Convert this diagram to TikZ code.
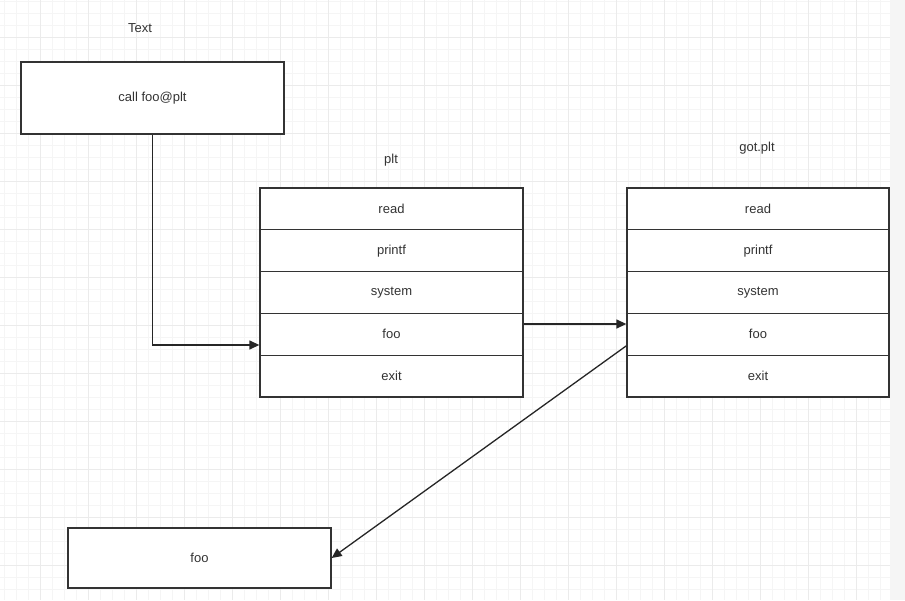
\documentclass[tikz,border=0pt]{standalone}
\usepackage{fontspec}
\setmainfont{Liberation Sans}
\usetikzlibrary{arrows.meta}
\begin{document}
\begin{tikzpicture}[x=1pt,y=-1pt,
  cell/.style={draw=black!80,line width=1.3pt,fill=white,minimum width=263pt,minimum height=41.8pt,inner sep=0pt,font=\fontsize{13}{15}\selectfont,text=black!80},
  box/.style={draw=black!80,line width=1.3pt,fill=white,inner sep=0pt,font=\fontsize{13}{15}\selectfont,text=black!80},
  lbl/.style={font=\fontsize{13}{15}\selectfont,text=black!80},
  conn/.style={draw=black!85,line width=1.3pt,-{Triangle[length=10pt,width=9pt]}}]
\useasboundingbox (0,0) rectangle (905,600);
\fill[white] (0,0) rectangle (905,600);
% grid
\foreach \x in {4,16,...,890} \draw[black!4,line width=0.5pt] (\x,0) -- (\x,600);
\foreach \y in {1,13,...,600} \draw[black!4,line width=0.5pt] (0,\y) -- (890,\y);
\foreach \x in {40,88,...,890} \draw[black!8,line width=0.8pt] (\x,0) -- (\x,600);
\foreach \y in {37,85,...,600} \draw[black!8,line width=0.8pt] (0,\y) -- (890,\y);
\fill[black!4] (890,0) rectangle (905,600);
% labels
\node[lbl] (ttext) at (140,28) {Text};
\node[lbl] (tplt) at (391,160) {plt};
\node[lbl] (tgot) at (757,148) {got.plt};
% call box
\node[box,minimum width=263pt,minimum height=72pt] (call) at (152.5,98) {call foo@plt};
% plt table
\node[cell] (pltread) at (391.5,208.9) {read};
\node[cell] (pltprintf) at (391.5,250.7) {printf};
\node[cell] (pltsystem) at (391.5,292.5) {system};
\node[cell] (pltfoo) at (391.5,334.3) {foo};
\node[cell] (pltexit) at (391.5,376.1) {exit};
% got table
\node[cell,minimum width=262pt] (gotread) at (758,208.9) {read};
\node[cell,minimum width=262pt] (gotprintf) at (758,250.7) {printf};
\node[cell,minimum width=262pt] (gotsystem) at (758,292.5) {system};
\node[cell,minimum width=262pt] (gotfoo) at (758,334.3) {foo};
\node[cell,minimum width=262pt] (gotexit) at (758,376.1) {exit};
% foo box
\node[box,minimum width=263pt,minimum height=60pt] (foo) at (199.5,558) {foo};
% connectors
\draw[conn] (call.south) |- ([yshift=-10.7pt]pltfoo.west);
\draw[conn] ([yshift=10.3pt]pltfoo.east) -- ([yshift=10.3pt]gotfoo.west);
\draw[conn] ([yshift=-11.5pt]gotfoo.west) -- (foo.east);
\end{tikzpicture}
\end{document}
